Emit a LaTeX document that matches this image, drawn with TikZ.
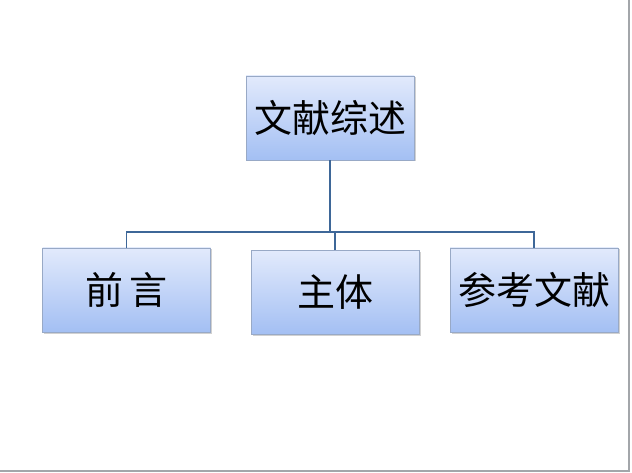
\documentclass[tikz,border=0pt]{standalone}
\usepackage{fontspec}
\newfontfamily\cjk{Noto Sans CJK SC}
\usetikzlibrary{shadows}
\definecolor{boxtop}{HTML}{E2EAFC}
\definecolor{boxbot}{HTML}{A3BFF3}
\definecolor{boxline}{HTML}{98A9C6}
\definecolor{conn}{HTML}{3E6798}
\definecolor{frame}{HTML}{A3A6AA}
\tikzset{
  box/.style={draw=boxline, line width=0.8pt, top color=boxtop, bottom color=boxbot,
    minimum width=168pt, minimum height=84pt, inner sep=0pt,
    font=\cjk\fontsize{38}{42}\selectfont,
    drop shadow={shadow xshift=1.5pt, shadow yshift=-1.5pt, fill=black, opacity=0.18}},
  link/.style={draw=conn, line width=1.8pt}
}
\begin{document}
\begin{tikzpicture}[x=1pt,y=-1pt]
\useasboundingbox (0,0) rectangle (632,473);
\fill[white] (0,0) rectangle (632,473);
\draw[frame, line width=2pt] (629,0) -- (629,471) -- (0,471);
\node[box] (top) at (330,118) {文献综述};
\node[box] (a) at (126.5,290) {前\hspace{6pt}言};
\node[box] (b) at (335,292.5) {主体};
\node[box] (c) at (534,290) {参考文献};
\coordinate (j) at (330,232);
\draw[link] (top.south) -- (j);
\draw[link] (a.north) -- (126.5,232) -| (c.north);
\draw[link] (b.north) -- (335,232);
\end{tikzpicture}
\end{document}
